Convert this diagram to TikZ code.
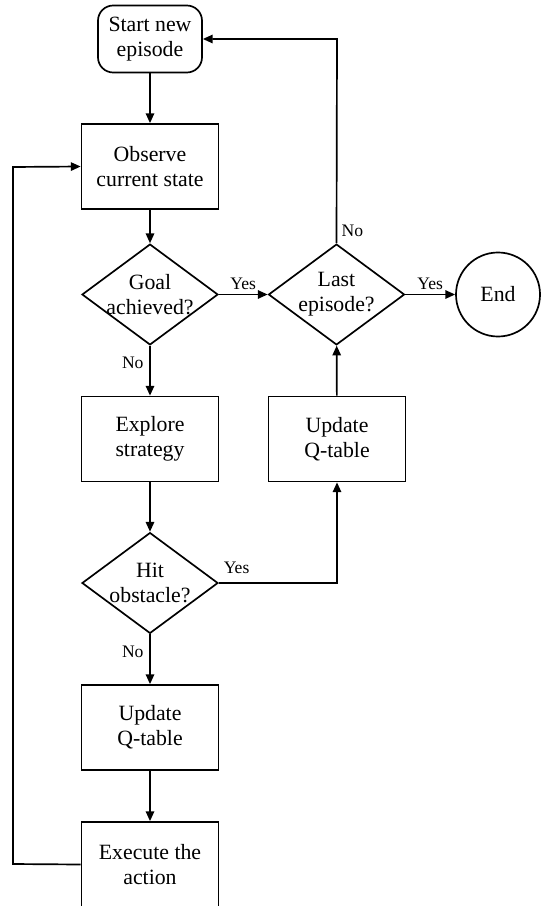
\documentclass[tikz,border=0pt]{standalone}
\usepackage{amssymb,amsmath}
\usepackage{fontspec}
\setmainfont{Liberation Serif}
\usepackage{tikz}
\usetikzlibrary{shapes.geometric,arrows.meta}

\begin{document}
\begin{tikzpicture}[x=0.025cm, y=-0.025cm, line width=1.2pt,
	every node/.style={font=\fontsize{15.5}{18}\selectfont, align=center},
	box/.style={shape=rectangle, draw, minimum width=3.425cm, minimum height=2.125cm},
	decision/.style={shape=diamond, draw, aspect=1.36, inner sep=0pt,
		minimum width=3.4cm, minimum height=2.52cm},
	tag/.style={font=\fontsize{12.5}{14}\selectfont, inner sep=1pt},
	>={Triangle[length=7pt, width=6pt]}]
	\useasboundingbox (0,0) rectangle (540,906);

	\node (1) at (150,39) [shape=rectangle, draw, rounded corners=0.38cm,
		minimum width=2.6cm, minimum height=1.675cm] {Start new\\episode};
	\node (2) at (150,166.5) [box] {Observe\\current state};
	\node (3) at (150,294.5) [decision, label={[align=center]center:Goal\\achieved?}] {};
	\node (4) at (336.5,294.5) [decision, label={[align=center]center:Last\\episode?}] {};
	\node (5) at (498,294.5) [shape=circle, draw, minimum size=2.1cm] {End};
	\node (6) at (150,439) [box] {Explore\\strategy};
	\node (7) at (337,439) [box] {Update\\Q-table};
	\node (8) at (150,583) [decision, label={[align=center]center:Hit\\obstacle?}] {};
	\node (9) at (150,727.5) [box] {Update\\Q-table};
	\node (10) at (150,864.5) [box] {Execute the\\action};

	\coordinate (a) at (337,39);
	\coordinate (b) at (337,583);
	\coordinate (c) at (13,864);
	\coordinate (d) at (13,167);

	\path 	[->]	(1) 	edge 	(2)
			(2)	edge	(3)
			(3)	edge	node [tag, above=2pt] {Yes} (4)
				edge	node [tag, pos=0.35, left=3pt] {No} (6)
			(4)	edge	node [tag, above=2pt] {Yes} (5)
			(6)	edge	(8)
			(7)	edge	(4)
			(8)	edge	node [tag, pos=0.35, left=3pt] {No} (9)
			(9)	edge	(10);

	\draw [->] (4.north) -- node [tag, pos=0.06, right=2pt] {No} (a) -- (1.east);
	\draw [->] (8.east) -- node [tag, pos=0.15, above=5pt] {Yes} (b) -- (7.south);
	\draw [->] (10.west) -- (c) -- (d) -- (2.west);
\end{tikzpicture}
\end{document}
